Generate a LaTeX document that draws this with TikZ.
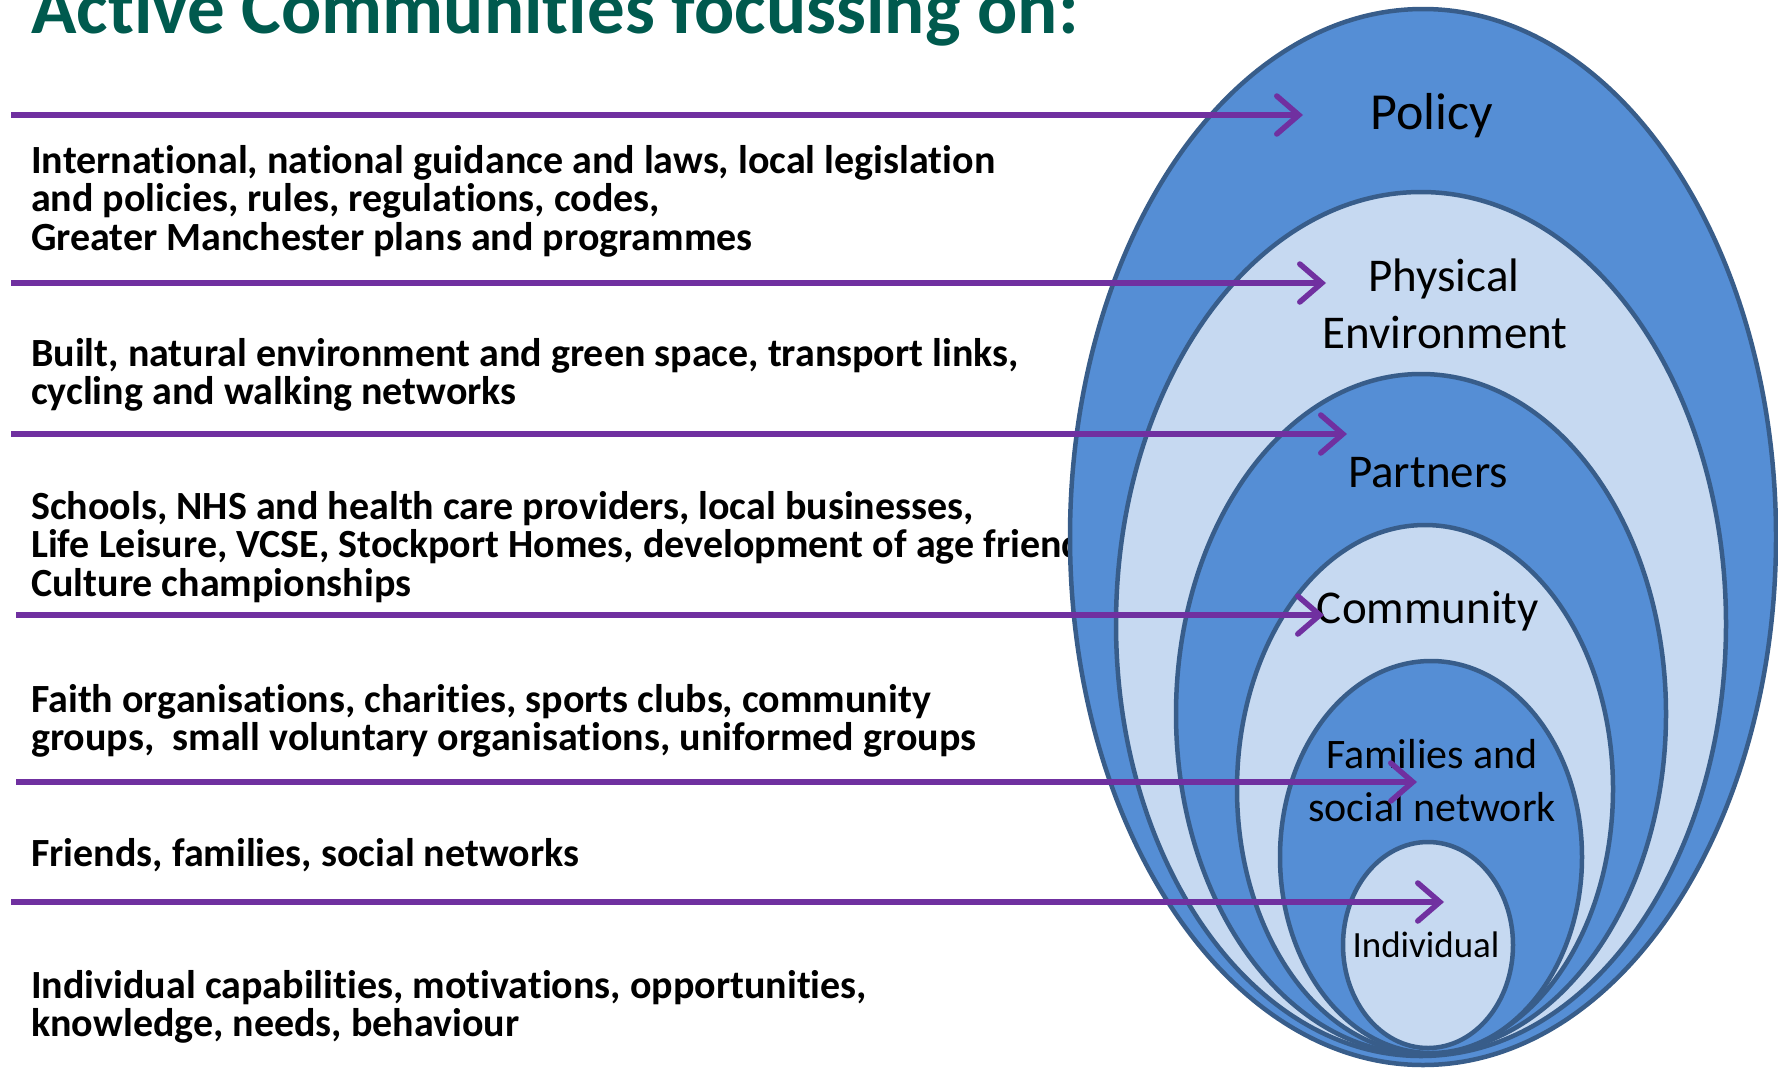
\documentclass[tikz,border=0pt]{standalone}
\usepackage{fontspec}
\setmainfont{Carlito}[Ligatures=NoCommon]
\usetikzlibrary{shapes.geometric,arrows.meta}
\definecolor{titlegreen}{RGB}{0,90,78}
\definecolor{ringdark}{RGB}{85,142,213}
\definecolor{ringlight}{RGB}{198,217,241}
\definecolor{ringedge}{RGB}{56,93,138}
\definecolor{arrowpurple}{RGB}{112,48,160}
\begin{document}
\begin{tikzpicture}[x=1pt,y=-1pt,
  ring/.style={ellipse, draw=ringedge, line width=4.5pt, inner sep=0pt, outer sep=0pt},
  lbl/.style={anchor=base, font=\fontsize{47}{58}\selectfont, inner sep=0pt},
  body/.style={anchor=base west, align=left, inner sep=0pt, font=\fontsize{40}{38.5}\selectfont\bfseries},
  link/.style={draw=arrowpurple, line width=5.5pt, -{Straight Barb[length=22pt,width=38pt,line cap=round]}}
]
\useasboundingbox (0,0) rectangle (1778,1069);
\clip (0,0) rectangle (1778,1069);

% title
\node[anchor=base west, inner sep=0pt, text=titlegreen, font=\fontsize{75}{80}\selectfont\bfseries] (title) at (31,33) {Active Communities focussing on:};

% body texts (anchored at the baseline of their last line)
\node[body] (t1) at (31,250) {International, national guidance and laws, local legislation\\and policies, rules, regulations, codes,\\Greater Manchester plans and programmes};
\node[body] (t2) at (31,404.5) {Built, natural environment and green space, transport links,\\cycling and walking networks};
\node[body] (t3) at (31,596) {Schools, NHS and health care providers, local businesses,\\Life Leisure, VCSE, Stockport Homes, development of age friendly\\Culture championships};
\node[body] (t4) at (31,750.5) {Faith organisations, charities, sports clubs, community\\groups,\ \ small voluntary organisations, uniformed groups};
\node[body] (t5) at (31,866) {Friends, families, social networks};
\node[body] (t6) at (31,1036.5) {Individual capabilities, motivations, opportunities,\\knowledge, needs, behaviour};

% nested ellipses
\node[ring, fill=ringdark,  minimum width=706pt, minimum height=1056pt] (policyE)    at (1423,537) {};
\node[ring, fill=ringlight, minimum width=610pt, minimum height=864pt]  (physicalE)  at (1421,624) {};
\node[ring, fill=ringdark,  minimum width=490pt, minimum height=680pt]  (partnersE)  at (1421,714) {};
\node[ring, fill=ringlight, minimum width=376pt, minimum height=528pt]  (communityE) at (1425,789) {};
\node[ring, fill=ringdark,  minimum width=302pt, minimum height=392pt]  (familiesE)  at (1431,857) {};
\node[ring, fill=ringlight, minimum width=170pt, minimum height=206pt]  (individualE) at (1428,945) {};

% labels
\node[lbl, font=\fontsize{52}{60}\selectfont] (policyL) at (1432,129) {Policy};
\node[lbl] (physL1) at (1444,291) {Physical};
\node[lbl] (physL2) at (1445,348) {Environment};
\node[lbl] (partL) at (1428,487) {Partners};
\node[lbl] (commL) at (1428,623) {Community};
\node[lbl, font=\fontsize{42}{52}\selectfont] (famL1) at (1432,768) {Families and};
\node[lbl, font=\fontsize{42}{52}\selectfont] (famL2) at (1432,821) {social network};
\node[lbl, font=\fontsize{37}{45}\selectfont] (indL) at (1426,957) {Individual};

% arrows
\coordinate (s1) at (11,115);  \coordinate (e1) at (1303,115);
\coordinate (s2) at (11,283);  \coordinate (e2) at (1326,283);
\coordinate (s3) at (11,434);  \coordinate (e3) at (1347,434);
\coordinate (s4) at (16,615);  \coordinate (e4) at (1324,615);
\coordinate (s5) at (16,782);  \coordinate (e5) at (1417,782);
\coordinate (s6) at (11,902);  \coordinate (e6) at (1444,902);
\draw[link] (s1) -- (e1);
\draw[link] (s2) -- (e2);
\draw[link] (s3) -- (e3);
\draw[link] (s4) -- (e4);
\draw[link] (s5) -- (e5);
\draw[link] (s6) -- (e6);
\end{tikzpicture}
\end{document}
